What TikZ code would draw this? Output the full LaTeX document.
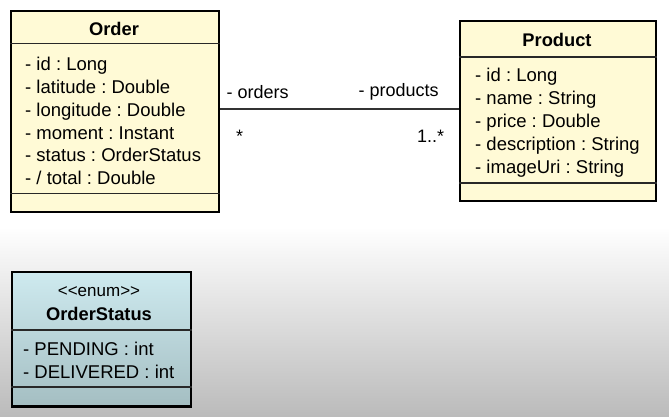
\documentclass[tikz,border=0pt]{standalone}
\usepackage{fontspec}
\setmainfont{Liberation Sans}
\frenchspacing
\definecolor{classfill}{RGB}{255,250,214}
\definecolor{enumtop}{RGB}{206,234,239}
\definecolor{enumbot}{RGB}{164,190,194}
\definecolor{bggray}{RGB}{187,187,187}
\definecolor{sepcol}{RGB}{40,40,40}
\tikzset{
  classbox/.style={draw=black, line width=2.4pt, rectangle, inner sep=0pt, anchor=north west},
  sepline/.style={draw=sepcol, line width=1.2pt},
  attr/.style={inner sep=0pt, anchor=base west, font=\fontsize{18.5}{22}\selectfont},
  ctitle/.style={inner sep=0pt, anchor=base, font=\fontsize{18.3}{22}\selectfont\bfseries},
  rolelabel/.style={inner sep=0pt, anchor=base west, font=\fontsize{18}{22}\selectfont},
  assoc/.style={draw=black!80, line width=1.1pt}
}
\begin{document}
\begin{tikzpicture}[x=1pt,y=-1pt]
\useasboundingbox (0,0) rectangle (669,416);
\fill[white] (0,0) rectangle (669,228);
\shade[top color=white, bottom color=bggray] (0,227) rectangle (669,416);

% Order class
\node[classbox, fill=classfill, minimum width=208pt, minimum height=201pt] (order) at (10,10) {};
\draw[sepline] (order.west |- 0,43.3) -- (order.east |- 0,43.3);
\draw[sepline] (order.west |- 0,193.3) -- (order.east |- 0,193.3);
\node[ctitle] (ordertitle) at (114,35) {Order};
\foreach \t [count=\i] in {{- id : Long},{- latitude : Double},{- longitude : Double},{- moment : Instant},{- status : OrderStatus},{- / total : Double}}
  \node[attr] (oa\i) at (25,{70.7+22.8*(\i-1)}) {\t};

% Product class
\node[classbox, fill=classfill, minimum width=196pt, minimum height=180pt] (product) at (459,20) {};
\draw[sepline] (product.west |- 0,57) -- (product.east |- 0,57);
\draw[sepline] (product.west |- 0,183) -- (product.east |- 0,183);
\node[ctitle] (producttitle) at (557,46) {Product};
\foreach \t [count=\i] in {{- id : Long},{- name : String},{- price : Double},{- description : String},{- imageUri : String}}
  \node[attr] (pa\i) at (475,{81.5+22.9*(\i-1)}) {\t};

% Association
\coordinate (assocy) at (0,109);
\draw[assoc] (order.east |- assocy) -- (product.west |- assocy);
\node[rolelabel] (rorders) at (226.5,98) {- orders};
\node[rolelabel] (rproducts) at (358.5,96) {- products};
\node[rolelabel] (morders) at (236,142.5) {*};
\node[rolelabel] (mproducts) at (417,142.5) {1..*};

% Enum
\node[classbox, top color=enumtop, bottom color=enumbot, minimum width=179pt, minimum height=134.5pt] (enumbox) at (10.7,270.7) {};
\draw[sepline] (enumbox.west |- 0,330) -- (enumbox.east |- 0,330);
\draw[sepline] (enumbox.west |- 0,387) -- (enumbox.east |- 0,387);
\node[inner sep=0pt, anchor=base, font=\fontsize{17}{20}\selectfont] (stereo) at (99,296) {<\kern0pt<enum>\kern0pt>};
\node[ctitle] (enumtitle) at (99,320) {OrderStatus};
\node[attr] (ea1) at (23,355) {- PENDING : int};
\node[attr] (ea2) at (23,378.3) {- DELIVERED : int};
\end{tikzpicture}
\end{document}
